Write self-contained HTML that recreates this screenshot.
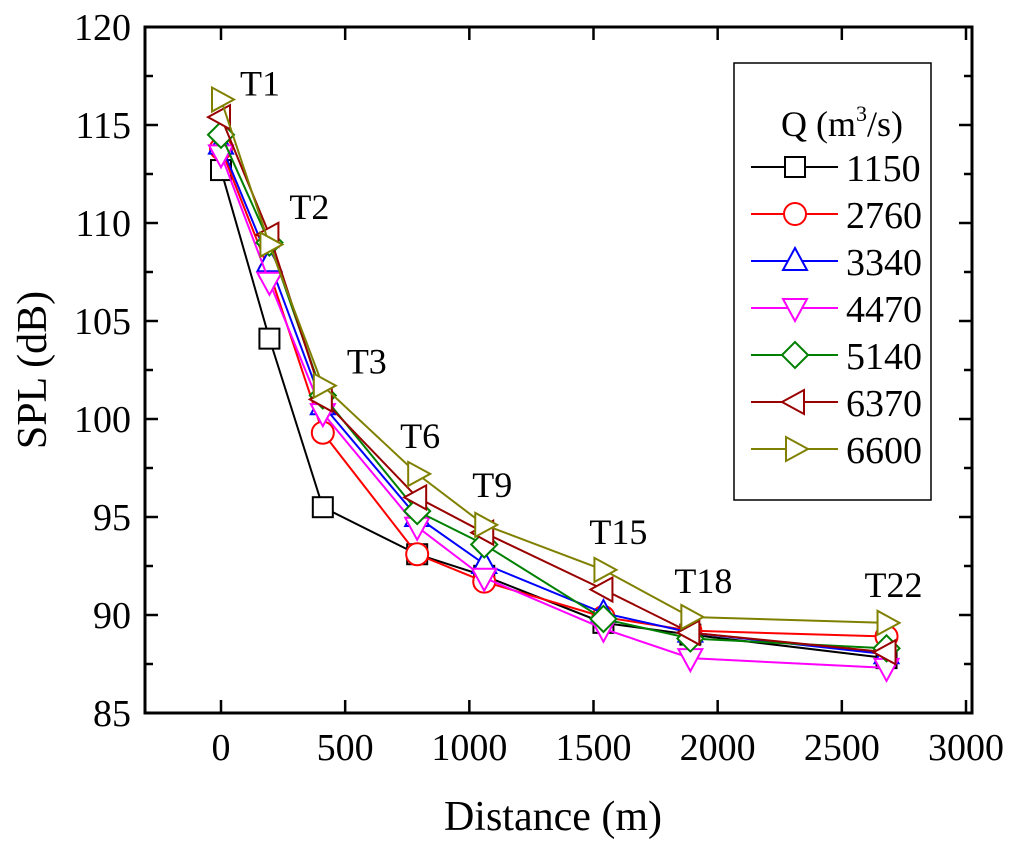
<!DOCTYPE html>
<html><head><meta charset="utf-8"><style>
html,body{margin:0;padding:0;background:#fff;}
svg text{font-family:"Liberation Serif",serif;fill:#000;}
</style></head><body>
<svg id="chart" width="1024" height="844" viewBox="0 0 1024 844" xmlns="http://www.w3.org/2000/svg">
</svg>
<script>
const distances = [0, 195, 410, 790, 1060, 1540, 1890, 2680];
const stationLabels = ["T1","T2","T3","T6","T9","T15","T18","T22"];
const seriesNames = ["1150","2760","3340","4470","5140","6370","6600"];
const s1150 = [112.7, 104.1, 95.5, 93.1, 92.0, 89.6, 89.0, 87.8];
const s2760 = [113.8, 107.5, 99.3, 93.1, 91.7, 89.9, 89.2, 88.9];
const s3340 = [114.0, 108.0, 100.7, 95.0, 92.6, 90.1, 89.1, 88.0];
const s4470 = [113.5, 107.0, 100.3, 94.5, 91.9, 89.3, 87.8, 87.3];
const s5140 = [114.5, 109.0, 101.2, 95.3, 93.6, 89.8, 88.8, 88.3];
const s6370 = [115.4, 109.4, 101.0, 96.0, 94.2, 91.3, 89.1, 88.1];
const s6600 = [116.3, 108.9, 101.7, 97.2, 94.6, 92.3, 89.9, 89.6];
const xTicks = [0, 500, 1000, 1500, 2000, 2500, 3000];
const yTicks = [85, 90, 95, 100, 105, 110, 115, 120];

const NS = "http://www.w3.org/2000/svg";
const svg = document.getElementById("chart");
const L = 145, R = 972, T = 27, B = 713;
const X = v => 221 + v * (745 / 3000);
const Y = v => B - (v - 85) * (B - T) / 35;
function mk(tag, attrs, parent) {
  const e = document.createElementNS(NS, tag);
  for (const k in attrs) e.setAttribute(k, attrs[k]);
  (parent || svg).appendChild(e);
  return e;
}
const data = [s1150, s2760, s3340, s4470, s5140, s6370, s6600];
const colors = ["#000000","#ff0000","#0000ff","#ff00ff","#008000","#990000","#808000"];
const shapes = ["square","circle","up","down","diamond","left","right"];

function marker(shape, cx, cy, color, parent) {
  let el;
  const st = {fill: "#fff", stroke: color, "stroke-width": 2};
  if (shape === "square") el = mk("rect", Object.assign({x: cx - 10, y: cy - 10, width: 20, height: 20}, st), parent);
  else if (shape === "circle") el = mk("circle", Object.assign({cx: cx, cy: cy, r: 11}, st), parent);
  else {
    let p;
    if (shape === "up") p = [[cx, cy - 13], [cx - 12, cy + 9], [cx + 12, cy + 9]];
    if (shape === "down") p = [[cx, cy + 13], [cx - 12, cy - 9], [cx + 12, cy - 9]];
    if (shape === "left") p = [[cx - 13, cy], [cx + 9, cy - 12], [cx + 9, cy + 12]];
    if (shape === "right") p = [[cx + 13, cy], [cx - 9, cy - 12], [cx - 9, cy + 12]];
    if (shape === "diamond") p = [[cx, cy - 13], [cx + 13, cy], [cx, cy + 13], [cx - 13, cy]];
    el = mk("polygon", Object.assign({points: p.map(q => q.join(",")).join(" ")}, st), parent);
  }
  return el;
}

const frame = mk("rect", {x: L, y: T, width: R - L, height: B - T, fill: "none", stroke: "#000", "stroke-width": 3});



xTicks.forEach(v => {
  const x = X(v);
  const t = mk("line", {x1: x, y1: B, x2: x, y2: B - 13, stroke: "#000", "stroke-width": 2.5});
  
  
  const t2 = mk("line", {x1: x, y1: T, x2: x, y2: T + 13, stroke: "#000", "stroke-width": 2.5});
  
  
  const lb = mk("text", {x: x, y: 760, "text-anchor": "middle", "font-size": 38});
  lb.textContent = v;
  
  
});
for (let v = 85; v <= 120; v += 2.5) {
  const y = Y(v);
  const len = yTicks.includes(v) ? 13 : 8;
  const t = mk("line", {x1: L, y1: y, x2: L + len, y2: y, stroke: "#000", "stroke-width": 2.5});
  
  
  const t2 = mk("line", {x1: R, y1: y, x2: R - len, y2: y, stroke: "#000", "stroke-width": 2.5});
  
  
}
yTicks.forEach(v => {
  const lb = mk("text", {x: L - 14, y: Y(v) + 13, "text-anchor": "end", "font-size": 38});
  lb.textContent = v;
  
  
});
const xt = mk("text", {x: 553, y: 830, "text-anchor": "middle", "font-size": 42});
xt.textContent = "Distance (m)";


const yt = mk("text", {x: 0, y: 0, "text-anchor": "middle", "font-size": 42, transform: "translate(46," + ((T + B) / 2) + ") rotate(-90)"});
yt.textContent = "SPL (dB)";



data.forEach((vals, si) => {
  const g = mk("g", {});
  
  
  const pts = vals.map((v, i) => X(distances[i]) + "," + Y(v)).join(" ");
  const pl = mk("polyline", {points: pts, fill: "none", stroke: colors[si], "stroke-width": 2}, g);
  
  
  vals.forEach((v, i) => {
    const m = marker(shapes[si], X(distances[i]), Y(v), colors[si], g);
    
    
  });
});

const labOff = [[19, -4], [20, -16], [24, -12], [-17, -26], [-12, -28], [-14, -26], [-16, -24], [-22, -26]];
stationLabels.forEach((s, i) => {
  const top = Math.max(...data.map(d => d[i]));
  const lb = mk("text", {x: X(distances[i]) + labOff[i][0], y: Y(top) + labOff[i][1], "font-size": 36});
  lb.textContent = s;
  
  
});

const lg = mk("g", {});


const lbx = mk("rect", {x: 734, y: 63, width: 197, height: 437, fill: "#fff", stroke: "#000", "stroke-width": 1.5}, lg);


const ltitle = mk("text", {x: 781, y: 136, "font-size": 36}, lg);
ltitle.innerHTML = 'Q (m<tspan dy="-15" font-size="22">3</tspan><tspan dy="15">/s)</tspan>';


seriesNames.forEach((n, si) => {
  const y = 167 + si * 47;
  const e = mk("g", {}, lg);
  
  
  mk("line", {x1: 751, y1: y, x2: 838, y2: y, stroke: colors[si], "stroke-width": 2}, e);
  marker(shapes[si], 795, y, colors[si], e);
  const t = mk("text", {x: 846, y: y + 14, "font-size": 38}, e);
  t.textContent = n;
});
</script>
</body></html>
